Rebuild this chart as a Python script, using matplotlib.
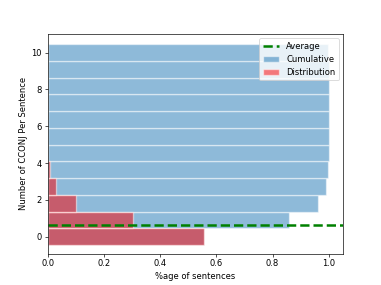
import numpy as np
import matplotlib
matplotlib.use('Agg')
import matplotlib.pyplot as plt

# number of CCONJ per sentence (12 bins) and share of sentences
n_cconj = np.arange(12)
distribution = [0.555, 0.305, 0.100, 0.030, 0.008, 0.002, 0.0, 0.0, 0.0, 0.0, 0.0, 0.0]
cumulative = [0.555, 0.860, 0.960, 0.990, 0.998, 0.999, 1.0, 1.0, 1.0, 1.0, 1.0, 0.998]
average = 0.65

fig, ax = plt.subplots(figsize=(381/60, 285/60), dpi=60)

# bins spread over 0..10 like a histogram of 12 bins
pos = n_cconj * 10 / 11
h = 10 / 11

ax.barh(pos, cumulative, height=h, color='C0', alpha=0.5, edgecolor='white', linewidth=1.6, label='Cumulative')
ax.barh(pos, distribution, height=h, color='r', alpha=0.5, edgecolor='white', linewidth=1.6, label='Distribution')
ax.axhline(average, color='g', linestyle='--', linewidth=3, label='Average')

ax.set_ylim(-0.92, 11.0)
ax.set_xlabel('%age of sentences')
ax.set_ylabel('Number of CCONJ Per Sentence')
ax.legend(loc='upper right')

fig.savefig('out.png', dpi=60)
